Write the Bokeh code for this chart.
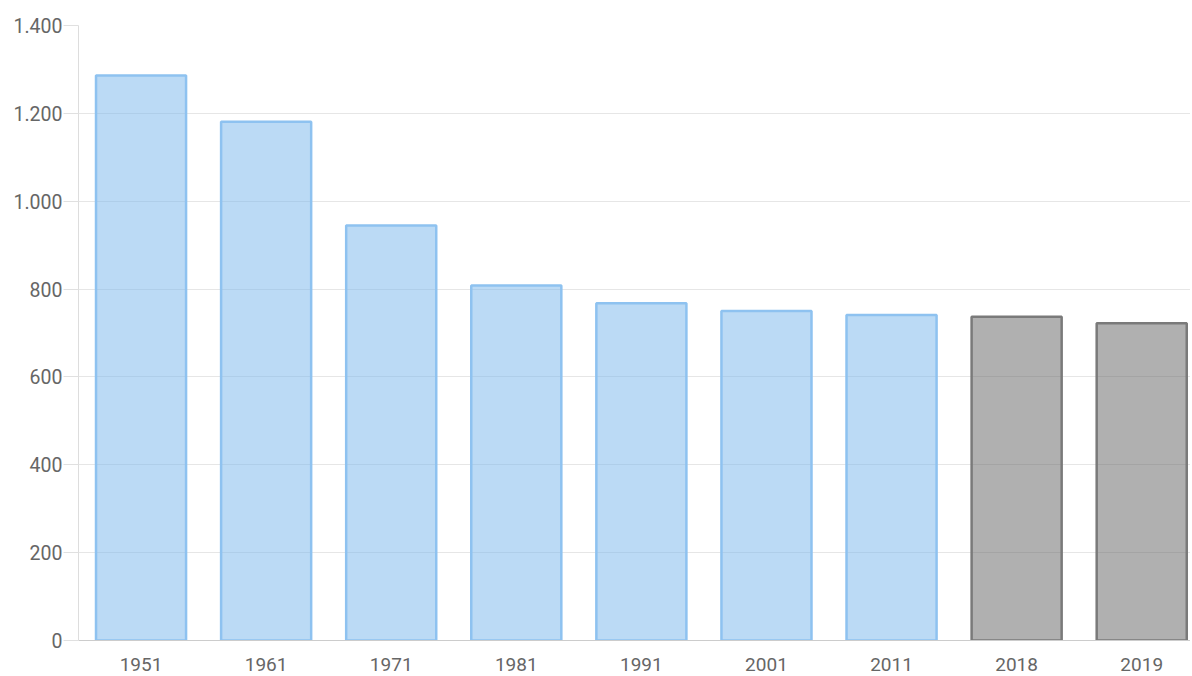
from bokeh.plotting import figure
from bokeh.models import Range1d, FixedTicker, ColumnDataSource
from bokeh.transform import factor_cmap
from bokeh.embed import file_html
from bokeh.resources import INLINE

# ---- data ----
years = ["1951", "1961", "1971", "1981", "1991", "2001", "2011", "2018", "2019"]
population = [1286, 1181, 945, 808, 768, 750, 741, 737, 722]
kind = ["census", "census", "census", "census", "census", "census", "census",
        "estimate", "estimate"]
y_ticks = [0, 200, 400, 600, 800, 1000, 1200, 1400]
y_labels = ["0", "200", "400", "600", "800", "1.000", "1.200", "1.400"]

kinds = ["census", "estimate"]
fill_palette = ["#77b5ec", "#626262"]
line_palette = ["#8ec2f0", "#7a7a7a"]

x_pos = list(range(len(years)))
source = ColumnDataSource(dict(x=x_pos, year=years, population=population, kind=kind))

p = figure(
    x_range=Range1d(-0.5, len(years) - 0.61),
    y_range=Range1d(0, 1400),
    width=1190, height=674,
    output_backend="svg",
    toolbar_location=None,
    min_border_left=78, min_border_right=0,
    min_border_top=25, min_border_bottom=34,
)

p.vbar(x="x", top="population", width=0.72, source=source,
       fill_color=factor_cmap("kind", palette=fill_palette, factors=kinds),
       fill_alpha=0.5,
       line_color=factor_cmap("kind", palette=line_palette, factors=kinds),
       line_width=2.5)

p.outline_line_color = None
p.xgrid.grid_line_color = None
p.ygrid.grid_line_color = "#e6e6e6"
p.ygrid.grid_line_width = 1

yax = p.yaxis[0]
yax.ticker = FixedTicker(ticks=y_ticks)
yax.major_label_overrides = {t: l for t, l in zip(y_ticks, y_labels)}
yax.axis_line_color = "#dddddd"
yax.major_tick_line_color = "#e0e0e0"
yax.major_tick_out = 15
yax.major_tick_in = 0
yax.minor_tick_line_color = None
yax.major_label_standoff = 1
yax.major_label_text_font = "Roboto"
yax.major_label_text_font_size = "19.5px"
yax.major_label_text_color = "#666666"

xax = p.xaxis[0]
xax.ticker = FixedTicker(ticks=x_pos)
xax.major_label_overrides = {i: y for i, y in zip(x_pos, years)}
xax.axis_line_color = "#cccccc"
xax.major_tick_line_color = None
xax.minor_tick_line_color = None
xax.major_tick_out = 0
xax.major_tick_in = 0
xax.major_label_standoff = 17
xax.major_label_text_font = "Roboto"
xax.major_label_text_font_size = "19px"
xax.major_label_text_color = "#666666"

open("out.html", "w").write(file_html(p, INLINE))
